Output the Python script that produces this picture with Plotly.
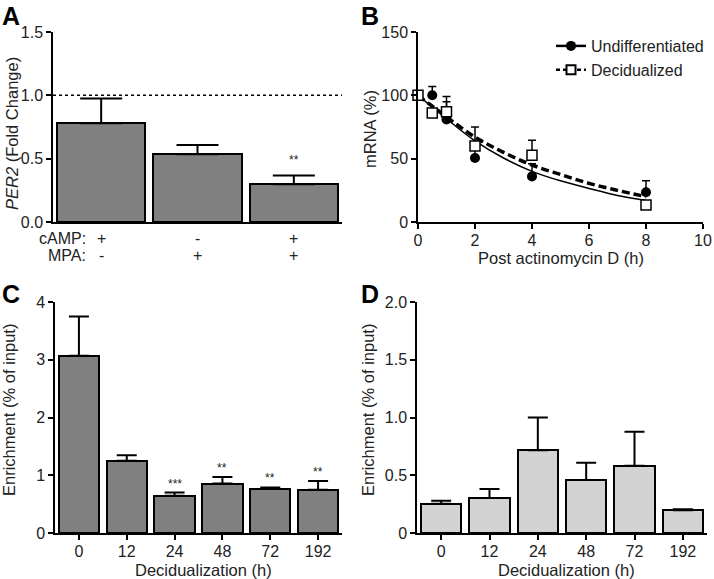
import plotly.graph_objects as go

W, H = 714, 579
def px(x): return x / W
def py(y): return 1 - y / H

FONT = "Liberation Sans, Arial, sans-serif"
TXT = "#222222"

# ---------------- Data ----------------
# Panel A
a_camp = ["+", "-", "+"]
a_mpa = ["-", "+", "+"]
a_vals = [0.78, 0.535, 0.298]
a_err = [0.195, 0.072, 0.070]
a_sig = ["", "", "**"]

# Panel B
b_time = [0, 0.5, 1, 2, 4, 8]
b_undiff = [100, 100, 81, 50.5, 36, 23.5]
b_undiff_err = [0, 7, 14, 8, 10, 9]
b_decid = [100, 86, 87, 60, 52.6, 13.4]
b_decid_err = [0, 0, 12, 15, 12, 0]
b_fit_time = [0, 1, 2, 3, 4, 5, 6, 7, 8]
b_fit_undiff = [100, 81.5, 64, 50.5, 40, 32.5, 26.5, 21, 17]
b_fit_decid = [100, 83, 67, 55, 45, 37.5, 30.5, 25, 20]

# Panel C
c_labels = ["0", "12", "24", "48", "72", "192"]
c_vals = [3.07, 1.25, 0.645, 0.855, 0.77, 0.75]
c_err = [0.68, 0.095, 0.055, 0.115, 0.02, 0.15]
c_sig = ["", "", "***", "**", "**", "**"]

# Panel D
d_labels = ["0", "12", "24", "48", "72", "192"]
d_vals = [0.254, 0.303, 0.716, 0.459, 0.583, 0.196]
d_err = [0.026, 0.078, 0.284, 0.150, 0.294, 0.009]

fig = go.Figure()

# ---------------- Panel A ----------------
fig.add_trace(go.Bar(
    x=list(range(len(a_vals))), y=a_vals, width=0.92,
    marker=dict(color="#808080", line=dict(color="black", width=2)),
    error_y=dict(type="data", symmetric=False, array=a_err,
                 arrayminus=[0] * len(a_err), color="black", thickness=2, width=21),
    xaxis="x", yaxis="y", showlegend=False))

# ---------------- Panel B ----------------
fig.add_trace(go.Scatter(
    x=b_fit_time, y=b_fit_undiff, mode="lines", line=dict(color="black", width=1.5, shape="spline"),
    xaxis="x2", yaxis="y2", showlegend=False, hoverinfo="skip"))
fig.add_trace(go.Scatter(
    x=b_fit_time, y=b_fit_decid, mode="lines",
    line=dict(color="black", width=3.5, dash="8px,4px", shape="spline"),
    xaxis="x2", yaxis="y2", showlegend=False, hoverinfo="skip"))
fig.add_trace(go.Scatter(
    x=b_time, y=b_undiff, mode="markers",
    marker=dict(symbol="circle", size=10, color="black"),
    error_y=dict(type="data", symmetric=False, array=b_undiff_err,
                 arrayminus=[0] * len(b_undiff_err), color="black", thickness=1.5, width=4),
    cliponaxis=False, xaxis="x2", yaxis="y2", showlegend=False))
fig.add_trace(go.Scatter(
    x=b_time, y=b_decid, mode="markers",
    marker=dict(symbol="square", size=10, color="white", line=dict(color="black", width=1.5)),
    error_y=dict(type="data", symmetric=False, array=b_decid_err,
                 arrayminus=[0] * len(b_decid_err), color="black", thickness=1.5, width=4),
    cliponaxis=False, xaxis="x2", yaxis="y2", showlegend=False))
# legend entries
fig.add_trace(go.Scatter(
    x=[None], y=[None], mode="lines+markers", name="Undifferentiated",
    line=dict(color="black", width=2.5), marker=dict(symbol="circle", size=10, color="black"),
    xaxis="x2", yaxis="y2"))
fig.add_trace(go.Scatter(
    x=[None], y=[None], mode="lines+markers", name="Decidualized",
    line=dict(color="black", width=2.5, dash="4px,3px"),
    marker=dict(symbol="square", size=9, color="white", line=dict(color="black", width=2)),
    xaxis="x2", yaxis="y2"))

# ---------------- Panel C ----------------
fig.add_trace(go.Bar(
    x=c_labels, y=c_vals, width=0.84,
    marker=dict(color="#808080", line=dict(color="black", width=2)),
    error_y=dict(type="data", symmetric=False, array=c_err,
                 arrayminus=[0] * len(c_err), color="black", thickness=2, width=10),
    xaxis="x3", yaxis="y3", showlegend=False))

# ---------------- Panel D ----------------
fig.add_trace(go.Bar(
    x=d_labels, y=d_vals, width=0.84,
    marker=dict(color="#d3d3d3", line=dict(color="black", width=2)),
    error_y=dict(type="data", symmetric=False, array=d_err,
                 arrayminus=[0] * len(d_err), color="black", thickness=2, width=10),
    xaxis="x4", yaxis="y4", showlegend=False))

# ---------------- Axes ----------------
base = dict(showline=True, linecolor="black", linewidth=1.5, ticks="outside", ticklen=5,
            tickwidth=1.5, tickcolor="black", showgrid=False, zeroline=False,
            automargin=False, ticklabeloverflow="allow",
            tickfont=dict(family=FONT, size=16, color=TXT), fixedrange=True)

fig.update_layout(
    width=W, height=H, autosize=False, margin=dict(l=0, r=0, t=0, b=0, pad=0),
    paper_bgcolor="white", plot_bgcolor="white",
    font=dict(family=FONT, color=TXT),
    bargap=0,
    xaxis=dict(base, domain=[px(53), px(342)], anchor="y", range=[-0.5, 2.5],
               showticklabels=False, ticks=""),
    yaxis=dict(base, domain=[py(222), py(32)], anchor="x", range=[0, 1.5],
               tickvals=[0, 0.5, 1.0, 1.5], ticktext=["0.0", "0.5", "1.0", "1.5"]),
    xaxis2=dict(base, domain=[px(418), px(703)], anchor="y2", range=[0, 10],
                tickvals=[0, 2, 4, 6, 8, 10], ticklabelstandoff=-2),
    yaxis2=dict(base, domain=[py(222), py(32)], anchor="x2", range=[0, 150],
                tickvals=[0, 50, 100, 150]),
    xaxis3=dict(base, domain=[px(55), px(342)], anchor="y3", range=[-0.5, 5.5],
                type="category", ticklabelstandoff=-2),
    yaxis3=dict(base, domain=[py(533), py(302)], anchor="x3", range=[0, 4],
                tickvals=[0, 1, 2, 3, 4]),
    xaxis4=dict(base, domain=[px(417), px(707)], anchor="y4", range=[-0.5, 5.5],
                type="category", ticklabelstandoff=-2),
    yaxis4=dict(base, domain=[py(533), py(302)], anchor="x4", range=[0, 2],
                tickvals=[0, 0.5, 1.0, 1.5, 2.0], ticktext=["0", "0.5", "1.0", "1.5", "2.0"]),
    legend=dict(x=px(551), y=py(29), xanchor="left", yanchor="top",
                font=dict(family=FONT, size=16, color=TXT), bgcolor="rgba(0,0,0,0)",
                itemwidth=30, tracegroupgap=0),
)

# dotted reference line in A
fig.add_shape(type="line", xref="x domain", yref="y", x0=0, x1=1, y0=1, y1=1,
              line=dict(color="black", width=1.5, dash="dot"))

ann = []
def text(x, y, s, size=16, xanchor="center", yanchor="middle", angle=0, bold=False,
         xref="paper", yref="paper", yshift=0, color=TXT):
    ann.append(dict(x=x, y=y, xref=xref, yref=yref, text=("<b>%s</b>" % s) if bold else s,
                    showarrow=False, xanchor=xanchor, yanchor=yanchor, textangle=angle,
                    yshift=yshift, font=dict(family=FONT, size=size, color=color)))

# panel letters
text(px(0), py(0), "A", size=25, xanchor="left", yanchor="top", bold=True, color="black")
text(px(359), py(0), "B", size=25, xanchor="left", yanchor="top", bold=True, color="black")
text(px(0), py(278), "C", size=25, xanchor="left", yanchor="top", bold=True, color="black")
text(px(359), py(278), "D", size=25, xanchor="left", yanchor="top", bold=True, color="black")

# axis titles
text(px(12), py(134), "<i>PER2</i> (Fold Change)", size=16.5, angle=-90)
text(px(370), py(129), "mRNA (%)", size=16.5, angle=-90)
text(px(561), py(258), "Post actinomycin D (h)", size=16.5)
text(px(9), py(410), "Enrichment (% of input)", size=16.5, angle=-90)
text(px(203), py(570), "Decidualization (h)", size=16.5)
text(px(368), py(410), "Enrichment (% of input)", size=16.5, angle=-90)
text(px(566), py(570), "Decidualization (h)", size=16.5)

# A category rows
text(px(88), py(238), "cAMP:", size=16, xanchor="right")
text(px(88), py(255), "MPA:", size=16, xanchor="right")
for i, (c, m) in enumerate(zip(a_camp, a_mpa)):
    text(i, py(238), c, size=16, xref="x")
    text(i, py(255), m, size=16, xref="x")

# significance marks
for i, s in enumerate(a_sig):
    if s:
        text(i, a_vals[i] + a_err[i], s, size=12, xref="x", yref="y", yanchor="bottom", yshift=6)
for i, (v, e, s) in enumerate(zip(c_vals, c_err, c_sig)):
    if s:
        text(i, v + e, s, size=12, xref="x3", yref="y3", yanchor="bottom", yshift=0)

fig.update_layout(annotations=ann)
fig.write_html("out.html", config={"displayModeBar": False, "responsive": False},
               post_script="document.body.style.margin='0';document.body.style.overflow='hidden';")
